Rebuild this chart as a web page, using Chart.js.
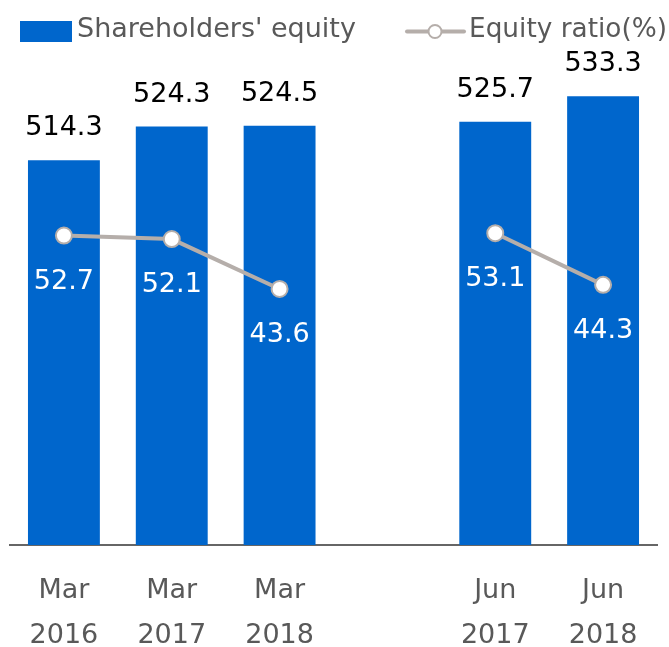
<!DOCTYPE html>
<html>
<head>
<meta charset="utf-8">
<script src="https://cdn.jsdelivr.net/npm/chart.js@4"></script>
<style>
  html, body { margin: 0; padding: 0; background: #fff; }
  #wrap { width: 669px; height: 647px; position: relative; }
</style>
</head>
<body>
<div id="wrap"><canvas id="c"></canvas></div>
<script>
// ---- data ----
const categories = [["Mar", "2016"], ["Mar", "2017"], ["Mar", "2018"], ["", ""], ["Jun", "2017"], ["Jun", "2018"]];
const equityValues = [514.3, 524.3, 524.5, null, 525.7, 533.3];
const ratioValues = [52.7, 52.1, 43.6, null, 53.1, 44.3];
const seriesNames = ["Shareholders' equity", "Equity ratio(%)"];

const FONT = "DejaVu Sans";
const BLUE = "#0066cc";
const GREY_LINE = "#b5aeaa";
const TEXT_GREY = "#595959";

const legendPlugin = {
  id: 'customLegend',
  afterDraw(chart) {
    const ctx = chart.ctx;
    ctx.save();
    ctx.font = "27px '" + FONT + "'";
    ctx.textAlign = 'left';
    ctx.textBaseline = 'alphabetic';
    // item 1: box
    ctx.fillStyle = BLUE;
    ctx.fillRect(20, 21, 52, 21);
    ctx.fillStyle = TEXT_GREY;
    ctx.fillText(chart.data.datasets[0].label, 77, 37);
    // item 2: line + circle
    ctx.strokeStyle = GREY_LINE;
    ctx.lineWidth = 4;
    ctx.lineCap = 'round';
    ctx.beginPath();
    ctx.moveTo(407, 31.5);
    ctx.lineTo(464, 31.5);
    ctx.stroke();
    ctx.beginPath();
    ctx.arc(435, 31.5, 6.5, 0, Math.PI * 2);
    ctx.fillStyle = '#fff';
    ctx.fill();
    ctx.lineWidth = 2;
    ctx.stroke();
    ctx.fillStyle = TEXT_GREY;
    ctx.fillText(chart.data.datasets[1].label, 469, 37, 198);
    ctx.restore();
  }
};

const labelPlugin = {
  id: 'valueLabels',
  afterDatasetsDraw(chart) {
    const ctx = chart.ctx;
    ctx.save();
    ctx.font = "27px '" + FONT + "'";
    ctx.textAlign = 'center';
    ctx.textBaseline = 'alphabetic';
    const barMeta = chart.getDatasetMeta(0);
    barMeta.data.forEach((el, i) => {
      const v = equityValues[i];
      if (v == null) return;
      ctx.fillStyle = '#000';
      ctx.fillText(v.toFixed(1), el.x, el.y - 25);
    });
    const lineMeta = chart.getDatasetMeta(1);
    lineMeta.data.forEach((el, i) => {
      const v = ratioValues[i];
      if (v == null) return;
      ctx.fillStyle = '#fff';
      ctx.fillText(v.toFixed(1), el.x, el.y + 53);
    });
    ctx.restore();
  }
};

new Chart(document.getElementById('c'), {
  type: 'bar',
  data: {
    labels: categories,
    datasets: [
      {
        type: 'bar',
        label: seriesNames[0],
        data: equityValues,
        backgroundColor: BLUE,
        borderWidth: 0,
        yAxisID: 'y',
        order: 1,
        barPercentage: 0.6667,
        categoryPercentage: 1.0
      },
      {
        type: 'line',
        label: seriesNames[1],
        data: ratioValues,
        borderColor: GREY_LINE,
        borderWidth: 4,
        pointRadius: 8,
        pointBackgroundColor: '#fff',
        pointBorderColor: GREY_LINE,
        pointBorderWidth: 2,
        spanGaps: false,
        tension: 0,
        yAxisID: 'y1',
        order: 0
      }
    ]
  },
  options: {
    responsive: true,
    maintainAspectRatio: false,
    animation: false,
    layout: { padding: { top: 40, left: 9, right: 12, bottom: 0 } },
    plugins: {
      legend: { display: false },
      tooltip: { enabled: false },
      title: { display: false }
    },
    scales: {
      x: {
        offset: true,
        grid: { display: false, drawTicks: false },
        border: { display: true, color: '#666666', width: 2 },
        ticks: {
          color: TEXT_GREY,
          font: { family: FONT, size: 27, lineHeight: 1.6667 },
          padding: 23,
          maxRotation: 0,
          autoSkip: false
        },
        afterFit(scale) { scale.height = 102; }
      },
      y: {
        display: false,
        min: 400,
        max: 550
      },
      y1: {
        display: false,
        position: 'right',
        min: 0,
        max: 86
      }
    }
  },
  plugins: [legendPlugin, labelPlugin]
});
</script>
</body>
</html>
